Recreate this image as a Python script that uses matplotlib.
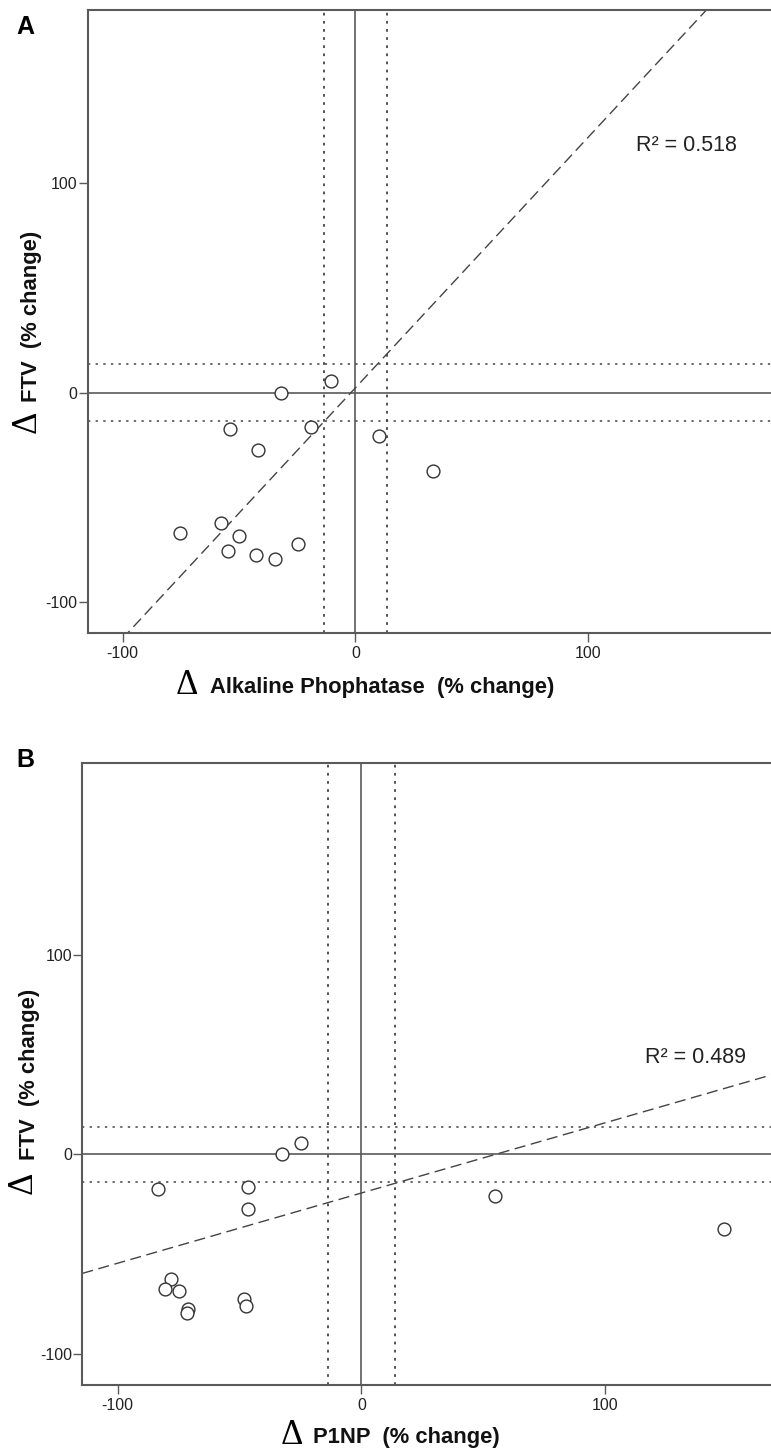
import numpy as np
import matplotlib.pyplot as plt

# --- data ---
ftv_change = [0.0, 5.7, -17.3, -16.5, -27.2, -20.8, -37.4,
              -62.1, -67.1, -68.4, -75.4, -77.6, -79.2, -72.2]
alp_change = [-32.0, -10.5, -53.9, -19.1, -41.9, 10.1, 33.2,
              -57.9, -75.4, -49.9, -54.9, -42.6, -34.5, -24.7]

ftv_change_b = [0.0, 5.5, -17.2, -16.5, -27.3, -62.4, -67.4,
                -68.4, -77.7, -79.4, -72.4, -75.9, -20.9, -37.4]
p1np_change = [-32.5, -24.7, -83.5, -46.7, -46.7, -78.3, -80.7,
               -75.0, -71.0, -71.7, -48.1, -47.5, 54.9, 148.8]

fit_a = (1.196, 2.3)    # slope, intercept
fit_b = (0.352, -19.4)
r2_a = "R\u00b2 = 0.518"
r2_b = "R\u00b2 = 0.489"
ref_band = 13.7
ticks = [-100, 0, 100]

W, H = 771, 1449
plt.rcParams['font.family'] = ['Liberation Sans', 'DejaVu Sans']
plt.rcParams['axes.unicode_minus'] = False
fig = plt.figure(figsize=(W / 100, H / 100), dpi=100)

dark = '#333333'
spine_c = '#5a5a5a'


def px(x, y):
    return x / W, 1 - y / H


def panel(rect_px, xs, ys, fit, r2, xlim, ylim, r2_pos):
    l, t, r, b = rect_px
    ax = fig.add_axes([l / W, 1 - b / H, (r - l) / W, (b - t) / H])
    ax.set_xlim(xlim)
    ax.set_ylim(ylim)
    for side in ['left', 'bottom', 'top']:
        ax.spines[side].set_color(spine_c)
        ax.spines[side].set_linewidth(1.5)
    ax.spines['right'].set_visible(False)
    ax.set_xticks(ticks)
    ax.set_yticks(ticks)
    ax.tick_params(length=6.5, width=1.0, color=spine_c, labelsize=11.5,
                   labelcolor='#222222')
    ax.tick_params(axis='y', pad=1)
    ax.tick_params(axis='x', pad=3)

    # reference lines
    ax.axhline(0, color=spine_c, lw=1.2, zorder=1)
    ax.axvline(0, color=spine_c, lw=1.2, zorder=1)
    for v in (-ref_band, ref_band):
        ax.axhline(v, color='#444444', lw=1.1, ls=(0, (1.5, 3.5)), zorder=1)
        ax.axvline(v, color='#444444', lw=1.3, ls=(0, (1.5, 3.0)), zorder=1)

    # fit line
    lx = np.array(xlim)
    ax.plot(lx, fit[0] * lx + fit[1], color='#444444', lw=1.0,
            ls=(0, (8, 4)), zorder=2)

    ax.scatter(xs, ys, s=85, facecolors='white', edgecolors=dark,
               linewidths=1.0, zorder=3)

    ax.text(r2_pos[0], r2_pos[1], r2, fontsize=15.5, color='#222222',
            ha='left', va='center', transform=ax.transData)
    return ax


ax_a = panel((88, 10, 771, 632.7), alp_change, ftv_change, fit_a, r2_a,
             (-114.9, 178.6), (-114.6, 182.7), (120.8, 118.2))
ax_b = panel((82.3, 762.7, 771, 1384.7), p1np_change, ftv_change_b, fit_b, r2_b,
             (-114.5, 168.0), (-115.5, 196.3), (116.4, 48.6))

delta_kw = dict(family=['Liberation Serif', 'DejaVu Serif'], fontsize=25,
                color='black')
label_kw = dict(fontsize=15.8, fontweight='bold', color='#111111')

# x labels
fig.text(*px(186.7, 693.8), '\u0394', ha='center', va='baseline', **delta_kw)
fig.text(*px(210, 693.3), 'Alkaline Phophatase  (% change)',
         ha='left', va='baseline', **label_kw)
fig.text(*px(291.7, 1443.8), '\u0394', ha='center', va='baseline', **delta_kw)
fig.text(*px(313.3, 1443.3), 'P1NP  (% change)',
         ha='left', va='baseline', **label_kw)

# y labels
for dx, dy, fx, fy in [(35.5, 421.5, 36.7, 401.7), (31.5, 1182.5, 34.5, 1160)]:
    fig.text(*px(dx, dy), '\u0394', rotation=90, rotation_mode='anchor',
             ha='center', va='baseline', **delta_kw)
    fig.text(*px(fx, fy), 'FTV  (% change)', rotation=90,
             rotation_mode='anchor', ha='left', va='baseline', **label_kw)

# panel letters
fig.text(*px(25, 27), 'A', ha='center', va='center', fontsize=18,
         fontweight='bold')
fig.text(*px(25, 760), 'B', ha='center', va='center', fontsize=18,
         fontweight='bold')

fig.savefig('out.png', dpi=100, facecolor='white')
